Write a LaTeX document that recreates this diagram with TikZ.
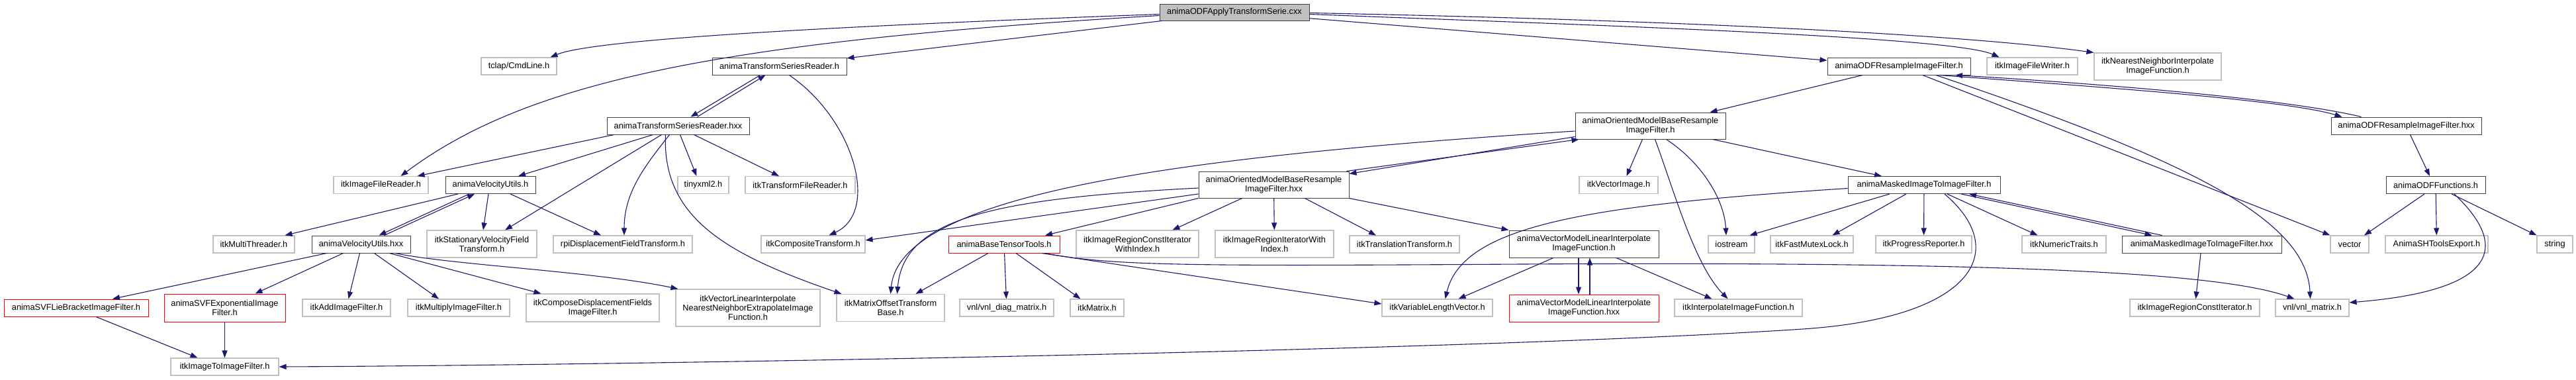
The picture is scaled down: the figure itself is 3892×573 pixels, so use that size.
\documentclass[tikz,border=0pt]{standalone}
\usepackage{fontspec}
\setmainfont{Liberation Sans}
\usetikzlibrary{arrows.meta}
\definecolor{edgeblue}{HTML}{191970}
\definecolor{boxgray}{HTML}{BFBFBF}
\definecolor{boxdark}{HTML}{404040}
\definecolor{boxred}{HTML}{FF0000}

\begin{document}
\begin{tikzpicture}[x=1pt, y=-1pt,
	every node/.style={font=\fontsize{12.8}{14}\selectfont, inner xsep=4pt, inner ysep=3pt, minimum height=26pt, align=center},
	>={Triangle[length=11pt,width=8pt]},
	gbox/.style={draw=boxgray, line width=1.1pt},
	dbox/.style={draw=boxdark, line width=1pt},
	rbox/.style={draw=boxred, line width=1pt},
	rootbox/.style={draw=boxdark, fill=boxgray, line width=1pt},
	dep/.style={->, draw=edgeblue, line width=1.1pt}]
	\useasboundingbox (0,0) rectangle (3892,573);
	% the file itself
	\node[rootbox, minimum width=226pt, minimum height=25pt] (root) at (1865,18.5) {animaODFApplyTransformSerie.cxx};
	% row 1
	\node[gbox, minimum width=114pt] (cmdline) at (784,100) {tclap/CmdLine.h};
	\node[dbox, minimum width=203pt] (tsr) at (1177.5,100) {animaTransformSeriesReader.h};
	\node[dbox, minimum width=216pt] (odfr) at (2869,100) {animaODFResampleImageFilter.h};
	\node[gbox, minimum width=137pt] (writer) at (3070.5,100) {itkImageFileWriter.h};
	\node[gbox, minimum width=192pt, minimum height=41pt] (nnif) at (3260,100.5) {itkNearestNeighborInterpolate\\ImageFunction.h};
	% row 2
	\node[dbox, minimum width=215pt] (tsrx) at (1024.5,190) {animaTransformSeriesReader.hxx};
	\node[dbox, minimum width=227pt, minimum height=40pt] (omb) at (2493.5,190) {animaOrientedModelBaseResample\\ImageFilter.h};
	\node[dbox, minimum width=227pt] (odfrx) at (3635.5,190) {animaODFResampleImageFilter.hxx};
	% row 3
	\node[gbox, minimum width=143pt] (reader) at (575.5,279.5) {itkImageFileReader.h};
	\node[dbox, minimum width=136pt] (vu) at (741,279.5) {animaVelocityUtils.h};
	\node[gbox, minimum width=77pt] (tinyxml) at (1062.5,279.5) {tinyxml2.h};
	\node[gbox, minimum width=166pt] (tfr) at (1209,279.5) {itkTransformFileReader.h};
	\node[dbox, minimum width=227pt, minimum height=40pt] (ombx) at (1924.5,279) {animaOrientedModelBaseResample\\ImageFilter.hxx};
	\node[gbox, minimum width=119pt] (vecimg) at (2445.5,279.5) {itkVectorImage.h};
	\node[dbox, minimum width=230pt] (mask) at (2907,279.5) {animaMaskedImageToImageFilter.h};
	\node[dbox, minimum width=150pt] (odff) at (3680,279.5) {animaODFFunctions.h};
	% row 4
	\node[gbox, minimum width=123pt] (mt) at (383.5,369) {itkMultiThreader.h};
	\node[dbox, minimum width=149pt] (vux) at (545.5,369) {animaVelocityUtils.hxx};
	\node[gbox, minimum width=166pt, minimum height=41pt] (svft) at (728,368.5) {itkStationaryVelocityField\\Transform.h};
	\node[gbox, minimum width=210pt] (rpi) at (941,369) {rpiDisplacementFieldTransform.h};
	\node[gbox, minimum width=157pt] (comp) at (1228.5,369) {itkCompositeTransform.h};
	\node[rbox, minimum width=168pt] (btt) at (1517,369) {animaBaseTensorTools.h};
	\node[gbox, minimum width=185pt, minimum height=41pt] (ricwi) at (1718.5,368.5) {itkImageRegionConstIterator\\WithIndex.h};
	\node[gbox, minimum width=179pt, minimum height=41pt] (riwi) at (1925.5,368.5) {itkImageRegionIteratorWith\\Index.h};
	\node[gbox, minimum width=166pt] (trans) at (2122,369) {itkTranslationTransform.h};
	\node[dbox, minimum width=226pt, minimum height=41pt] (vml) at (2393,368.5) {animaVectorModelLinearInterpolate\\ImageFunction.h};
	\node[gbox, minimum width=70pt] (iostream) at (2616,369) {iostream};
	\node[gbox, minimum width=125pt] (fml) at (2737.5,369) {itkFastMutexLock.h};
	\node[gbox, minimum width=145pt] (prog) at (2906.5,369) {itkProgressReporter.h};
	\node[gbox, minimum width=127pt] (numt) at (3118.5,369) {itkNumericTraits.h};
	\node[dbox, minimum width=241pt] (maskx) at (3326.5,369) {animaMaskedImageToImageFilter.hxx};
	\node[gbox, minimum width=58pt] (vechdr) at (3550,369) {vector};
	\node[gbox, minimum width=155pt] (shexp) at (3681.5,369) {AnimaSHToolsExport.h};
	\node[gbox, minimum width=54pt] (strhdr) at (3860,369) {string};
	% row 5
	\node[rbox, minimum width=218pt] (svflb) at (115,465) {animaSVFLieBracketImageFilter.h};
	\node[rbox, minimum width=183pt, minimum height=42pt] (svfexp) at (339.5,465) {animaSVFExponentialImage\\Filter.h};
	\node[gbox, minimum width=133pt] (add) at (523.5,465) {itkAddImageFilter.h};
	\node[gbox, minimum width=154pt] (mult) at (693,465) {itkMultiplyImageFilter.h};
	\node[gbox, minimum width=201pt, minimum height=42pt] (cdf) at (895.5,465) {itkComposeDisplacementFields\\ImageFilter.h};
	\node[gbox, minimum width=218pt, minimum height=56pt] (vlinne) at (1130,465) {itkVectorLinearInterpolate\\NearestNeighborExtrapolateImage\\Function.h};
	\node[gbox, minimum width=163pt, minimum height=41pt] (mot) at (1345.5,465) {itkMatrixOffsetTransform\\Base.h};
	\node[gbox, minimum width=142pt] (diag) at (1521,465) {vnl/vnl\_diag\_matrix.h};
	\node[gbox, minimum width=81pt] (itkmat) at (1657.5,465) {itkMatrix.h};
	\node[gbox, minimum width=167pt] (vlv) at (2171.5,465) {itkVariableLengthVector.h};
	\node[rbox, minimum width=226pt, minimum height=41pt] (vmlx) at (2393,465.5) {animaVectorModelLinearInterpolate\\ImageFunction.hxx};
	\node[gbox, minimum width=193pt] (interp) at (2626.5,465) {itkInterpolateImageFunction.h};
	\node[gbox, minimum width=196pt] (rci) at (3316,465) {itkImageRegionConstIterator.h};
	\node[gbox, minimum width=111pt] (vnlm) at (3493.5,465) {vnl/vnl\_matrix.h};
	% row 6
	\node[gbox, minimum width=163pt] (i2i) at (339.5,554) {itkImageToImageFilter.h};

	% includes of the .cxx
	\draw[dep] ([yshift=-3pt]root.west) .. controls (1300,38) and (900,58) .. ([xshift=-10pt]cmdline.north east);
	\draw[dep] ([yshift=-5pt]root.west) .. controls (1100,62) and (800,120) .. ([xshift=30pt]reader.north);
	\draw[dep] (root) -- (tsr);
	\draw[dep] (root) -- (odfr);
	\draw[dep] ([yshift=-3pt]root.east) .. controls (2400,38) and (2950,55) .. ([xshift=-50pt]writer.north);
	\draw[dep] ([yshift=-1pt]root.east) .. controls (2500,30) and (2950,50) .. (nnif.north west);
	% animaTransformSeriesReader
	\draw[dep] ([xshift=-29pt]tsr.south) -- ([xshift=19pt]tsrx.north);
	\draw[dep] ([xshift=29pt]tsrx.north) -- ([xshift=-21pt]tsr.south);
	\draw[dep] ([xshift=15pt]tsr.south) .. controls (1290,180) and (1330,320) .. ([xshift=24pt]comp.north);
	\draw[dep] ([xshift=-97pt]tsrx.south) -- ([xshift=55pt]reader.north);
	\draw[dep] ([xshift=-38pt]tsrx.south) -- ([xshift=42pt]vu.north);
	\draw[dep] ([xshift=-25pt]tsrx.south) -- ([xshift=35pt]svft.north);
	\draw[dep] ([xshift=-13pt]tsrx.south) .. controls (975,250) and (943,290) .. ([xshift=2pt]rpi.north);
	\draw[dep] ([xshift=3pt]tsrx.south) -- ([xshift=-10pt]tinyxml.north);
	\draw[dep] ([xshift=24pt]tsrx.south) -- ([xshift=-32pt]tfr.north);
	\draw[dep] ([xshift=-19pt]tsrx.south) .. controls (1000,330) and (1100,385) .. ([xshift=8pt]mot.north west);
	% animaVelocityUtils
	\draw[dep] ([xshift=-49pt]vu.south) -- ([xshift=47pt]mt.north);
	\draw[dep] ([xshift=-32pt]vu.south) -- ([xshift=27pt]vux.north);
	\draw[dep] ([xshift=35pt]vux.north) -- ([xshift=-24pt]vu.south);
	\draw[dep] ([xshift=-3pt]vu.south) -- ([xshift=2pt]svft.north);
	\draw[dep] ([xshift=30pt]vu.south) -- ([xshift=-33pt]rpi.north);
	\draw[dep] ([xshift=-52pt]vux.south) -- ([xshift=55pt]svflb.north);
	\draw[dep] ([xshift=-27pt]vux.south) -- ([xshift=46pt]svfexp.north);
	\draw[dep] ([xshift=-2pt]vux.south) -- ([xshift=3pt]add.north);
	\draw[dep] ([xshift=20pt]vux.south) -- ([xshift=-30pt]mult.north);
	\draw[dep] ([xshift=43pt]vux.south) -- ([xshift=-78pt]cdf.north);
	\draw[dep] ([xshift=52pt]vux.south) .. controls (680,400) and (900,410) .. ([xshift=4pt]vlinne.north west);
	\draw[dep] ([xshift=30pt]svflb.south) -- ([xshift=-41pt]i2i.north);
	\draw[dep] (svfexp) -- (i2i);
	% animaODFResampleImageFilter
	\draw[dep] ([xshift=-55pt]odfr.south) -- ([xshift=90pt]omb.north);
	\draw[dep] ([xshift=61pt]odfr.south) .. controls (3150,130) and (3450,150) .. ([xshift=-97pt]odfrx.north);
	\draw[dep] ([xshift=-68pt]odfrx.north) .. controls (3450,148) and (3150,125) .. ([xshift=85pt]odfr.south);
	\draw[dep] ([xshift=36pt]odfr.south) -- (vechdr.north west);
	\draw[dep] ([xshift=56pt]odfr.south) .. controls (3300,240) and (3485,330) .. ([xshift=-3pt]vnlm.north);
	\draw[dep] ([xshift=6pt]odfrx.south) -- ([xshift=-9pt]odff.north);
	\draw[dep] ([xshift=-17pt]odff.south) -- ([xshift=22pt]vechdr.north);
	\draw[dep] (odff) -- (shexp);
	\draw[dep] ([xshift=24pt]odff.south) -- (strhdr.north west);
	\draw[dep] ([xshift=28pt]odff.south) .. controls (3800,380) and (3760,440) .. ([yshift=8pt]vnlm.east);
	% animaOrientedModelBaseResampleImageFilter
	\draw[dep] ([yshift=4pt]omb.south west) -- ([yshift=-4pt]ombx.north east);
	\draw[dep] ([xshift=-4pt]ombx.north east) -- ([xshift=6pt]omb.south west);
	\draw[dep] ([yshift=-8pt]omb.west) .. controls (1800,235) and (1360,290) .. (mot.north);
	\draw[dep] ([xshift=-12pt]omb.south) -- ([xshift=12pt]vecimg.north);
	\draw[dep] ([xshift=7pt]omb.south) .. controls (2530,290) and (2560,400) .. ([xshift=-16pt]interp.north);
	\draw[dep] ([xshift=24pt]omb.south) .. controls (2570,245) and (2605,300) .. ([xshift=-8pt]iostream.north);
	\draw[dep] ([xshift=94pt]omb.south) -- ([xshift=-64pt]mask.north);
	\draw[dep] ([yshift=-5pt]ombx.west) .. controls (1500,300) and (1365,330) .. ([xshift=10pt]mot.north);
	\draw[dep] ([yshift=-14pt]ombx.west) -- ([yshift=6pt]comp.east);
	\draw[dep] (ombx.south west) -- ([xshift=62pt]btt.north);
	\draw[dep] ([xshift=-48pt]ombx.south) -- ([xshift=53pt]ricwi.north);
	\draw[dep] (ombx) -- (riwi);
	\draw[dep] ([xshift=47pt]ombx.south) -- ([xshift=-43pt]trans.north);
	\draw[dep] (ombx.south east) -- (vml.north west);
	% animaBaseTensorTools
	\draw[dep] ([xshift=-24pt]btt.south) -- ([xshift=38pt]mot.north);
	\draw[dep] (btt) -- (diag);
	\draw[dep] ([xshift=18pt]btt.south) -- ([xshift=-25pt]itkmat.north);
	\draw[dep] ([xshift=57pt]btt.south) -- ([yshift=6pt]vlv.west);
	\draw[dep] ([xshift=62pt]btt.south) .. controls (1680,402) and (1800,402) .. (2300,399) .. controls (3000,395) and (3350,410) .. ([xshift=-27pt]vnlm.north);
	% animaVectorModelLinearInterpolateImageFunction
	\draw[dep] ([xshift=-46pt]vml.south) -- ([xshift=32pt]vlv.north);
	\draw[dep] ([xshift=-8pt]vml.south) -- ([xshift=-8pt]vmlx.north);
	\draw[dep] ([xshift=9pt]vmlx.north) -- ([xshift=9pt]vml.south);
	\draw[dep] ([xshift=49pt]vml.south) -- ([xshift=-40pt]interp.north);
	% animaMaskedImageToImageFilter
	\draw[dep] ([xshift=-52pt]mask.south) -- ([xshift=-8pt]iostream.north east);
	\draw[dep] ([xshift=-27pt]mask.south) -- ([xshift=31pt]fml.north);
	\draw[dep] (mask) -- (prog);
	\draw[dep] ([xshift=35pt]mask.south) -- ([xshift=-40pt]numt.north);
	\draw[dep] ([xshift=56pt]mask.south) -- ([xshift=-75pt]maskx.north);
	\draw[dep] ([xshift=-60pt]maskx.north) -- ([xshift=68pt]mask.south);
	\draw[dep] ([yshift=-5pt]mask.west) .. controls (2400,310) and (2210,340) .. ([xshift=12pt]vlv.north);
	\draw[dep] ([xshift=31pt]mask.south) .. controls (3040,380) and (2980,480) .. (2724,497) .. controls (2212,531) and (900,552) .. (i2i.east);
	\draw[dep] (maskx) -- (rci);
\end{tikzpicture}
\end{document}
